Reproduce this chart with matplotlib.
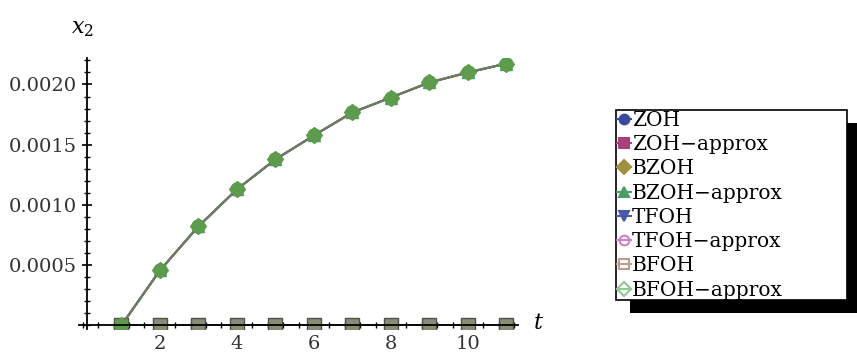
import matplotlib
matplotlib.use('Agg')
import matplotlib.pyplot as plt
from matplotlib.patches import Rectangle
from matplotlib.ticker import MultipleLocator, FormatStrFormatter

# donnees
t = [1, 2, 3, 4, 5, 6, 7, 8, 9, 10, 11]
x2_exact = [0, 0, 0, 0, 0, 0, 0, 0, 0, 0, 0]
x2_approx = [0, 0.000456, 0.000822, 0.001129, 0.001378, 0.001577,
             0.001768, 0.001892, 0.002017, 0.0021, 0.002174]
noms = ['ZOH', 'ZOH−approx', 'BZOH', 'BZOH−approx',
        'TFOH', 'TFOH−approx', 'BFOH', 'BFOH−approx']

plt.rcParams['font.family'] = 'DejaVu Serif'
plt.rcParams['mathtext.fontset'] = 'dejavuserif'

fig = plt.figure(figsize=(8.57, 3.6), dpi=100)
ax = fig.add_axes([79 / 857, 31 / 360, 439 / 857, 271 / 360])

# series exactes (toutes a zero) puis approximations
ax.plot(t, x2_exact, color='#3d4a99', marker='o', ms=8, lw=1.2, label=noms[0])
ax.plot(t, x2_approx, color='#6d7a66', marker='s', ms=6, mfc='#99406e', mec='#99406e', lw=1.5, label=noms[1])
ax.plot(t, x2_exact, color='#9c8a3e', marker='D', ms=7, lw=1.2, label=noms[2])
ax.plot(t, x2_approx, color='#6d7a66', marker='^', ms=9, mfc='#4a9966', mec='#4a9966', lw=1.5, label=noms[3])
ax.plot(t, x2_exact, color='#5363a8', marker='v', ms=8, lw=1.2, label=noms[4])
ax.plot(t, x2_approx, color='#6d7a66', marker='o', ms=9.5, mfc='#5c9c4c', mec='#5c9c4c', lw=1.5, label=noms[5])
ax.plot(t, x2_exact, color='#7c7f6e', marker='s', ms=10, mfc='#8a8c78', mec='#505248', lw=1.2, label=noms[6])
ax.plot(t, x2_approx, color='#6d7a66', marker='D', ms=8, mfc='#5c9c4c', mec='#5c9c4c', lw=1.5, label=noms[7])

ax.set_xlim(-0.1, 11.3)
ax.set_ylim(-0.00003, 0.00222)

# axes facon Mathematica
for s in ['top', 'right']:
    ax.spines[s].set_visible(False)
ax.spines['left'].set_position(('data', 0.1))
ax.spines['bottom'].set_position(('data', 0))
ax.spines['left'].set_linewidth(1.3)
ax.spines['bottom'].set_linewidth(1.3)
ax.xaxis.set_minor_locator(MultipleLocator(0.4))
ax.yaxis.set_minor_locator(MultipleLocator(0.0001))
ax.yaxis.set_major_formatter(FormatStrFormatter('%.4f'))
ax.set_xticks([2, 4, 6, 8, 10])
ax.set_yticks([0.0005, 0.0010, 0.0015, 0.0020])
ax.tick_params(which='major', direction='inout', length=7, width=1.2, labelsize=14, labelcolor='#333333')
ax.tick_params(which='minor', direction='inout', length=4, width=1)

fig.text(82 / 857, 1 - 28 / 360, '$x_2$', fontsize=16, ha='center', va='center')
fig.text(538 / 857, 1 - 323 / 360, '$t$', fontsize=16, ha='center', va='center')

# cadre de legende et ombre noire
fig.patches.append(Rectangle((630 / 857, 47 / 360), 230 / 857, 190 / 360,
                             transform=fig.transFigure, facecolor='black', edgecolor='none', zorder=4))
fig.patches.append(Rectangle((616 / 857, 60 / 360), 231 / 857, 190 / 360,
                             transform=fig.transFigure, facecolor='white', edgecolor='black',
                             lw=1.2, zorder=4.5))
h, l = ax.get_legend_handles_labels()
leg = fig.legend(h, l, loc='upper left', bbox_to_anchor=(615 / 857, 1 - 109 / 360),
                 fontsize=14.5, labelspacing=0.26, handlelength=0.7, handletextpad=0.05,
                 borderpad=0.1, borderaxespad=0, frameon=False)
leg.set_zorder(5)
styles = [('o', '#3a4a9a', '#3a4a9a'), ('s', '#a8407a', '#a8407a'),
          ('D', '#a09040', '#a09040'), ('^', '#4a9a6a', '#4a9a6a'),
          ('v', '#4a5aa8', '#4a5aa8'), ('o', 'none', '#d080c8'),
          ('s', 'none', '#b8a090'), ('D', 'none', '#90c890')]
for line, (m, fc, ec) in zip(leg.get_lines(), styles):
    line.set_color(ec)
    line.set_linewidth(1.5)
    line.set_marker(m)
    line.set_markerfacecolor(fc)
    line.set_markeredgecolor(ec)
    line.set_markeredgewidth(1.5)
    line.set_markersize(7)

fig.savefig('out.png', dpi=100)
